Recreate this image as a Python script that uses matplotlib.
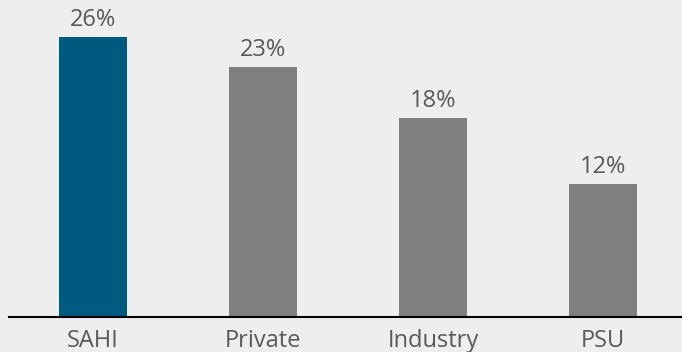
import matplotlib
matplotlib.use("Agg")
import matplotlib.pyplot as plt

categories = ["SAHI", "Private", "Industry", "PSU"]
values = [26.0, 23.2, 18.5, 12.35]
value_labels = ["26%", "23%", "18%", "12%"]
colors = ["#005a80", "#7f7f7f", "#7f7f7f", "#7f7f7f"]

W, H = 682, 352
fig = plt.figure(figsize=(W / 100, H / 100), dpi=100)
fig.patch.set_facecolor("#eeeeee")
ax = fig.add_axes([9 / W, (H - 317) / H, (W - 9) / W, 317 / H])
ax.set_facecolor("#eeeeee")

x = list(range(len(categories)))
ax.bar(x, values, width=0.4, color=colors)
ax.set_xlim(-0.494, 3.465)
ax.set_ylim(0, 317 / 10.77)

for xi, v, lab in zip(x, values, value_labels):
    ax.annotate(lab, (xi, v), xytext=(0, 8), textcoords="offset points",
                ha="center", va="baseline", fontsize=17, color="#595959",
                family="Open Sans")
for xi, c in zip(x, categories):
    ax.annotate(c, (xi, 0), xytext=(0, -30 * 0.72), textcoords="offset points",
                ha="center", va="baseline", fontsize=17, color="#595959",
                family="Open Sans", annotation_clip=False)

for s in ["top", "right", "left"]:
    ax.spines[s].set_visible(False)
ax.spines["bottom"].set_color("#000000")
ax.spines["bottom"].set_linewidth(1.5)
ax.set_xticks([])
ax.set_yticks([])

fig.savefig("out.png", dpi=100, facecolor=fig.get_facecolor())
